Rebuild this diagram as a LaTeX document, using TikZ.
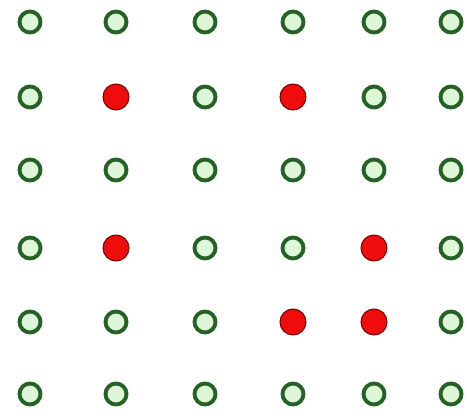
\documentclass[tikz,border=0pt]{standalone}
\definecolor{ringgreen}{RGB}{38,98,38}
\definecolor{ringfill}{RGB}{222,246,216}
\definecolor{dotred}{RGB}{238,12,12}
\definecolor{dotrim}{RGB}{120,0,0}
\tikzset{
    site/.style={circle, inner sep=0pt, minimum size=0.42cm, draw=ringgreen, fill=ringfill, line width=2.2pt},
    hit/.style={circle, inner sep=0pt, minimum size=0.52cm, draw=dotrim, fill=dotred, line width=0.6pt}
}
\begin{document}
\begin{tikzpicture}[x=0.02cm, y=-0.02cm]
    \useasboundingbox (0,0) rectangle (467,419);

    % occupied sites (row/column)
    \foreach \r/\c in {2/2,2/4,4/2,4/5,5/4,5/5} {
        \expandafter\xdef\csname hit-\r-\c\endcsname{}
    }

    \foreach \y [count=\r] in {22,97,170,248,322,394} {
        \foreach \x [count=\c] in {30,116,205,293,374,451} {
            \ifcsname hit-\r-\c\endcsname \def\kind{hit}\else \def\kind{site}\fi
            \node[\kind] (n-\r-\c) at (\x,\y) {};
        }
    }
\end{tikzpicture}
\end{document}
